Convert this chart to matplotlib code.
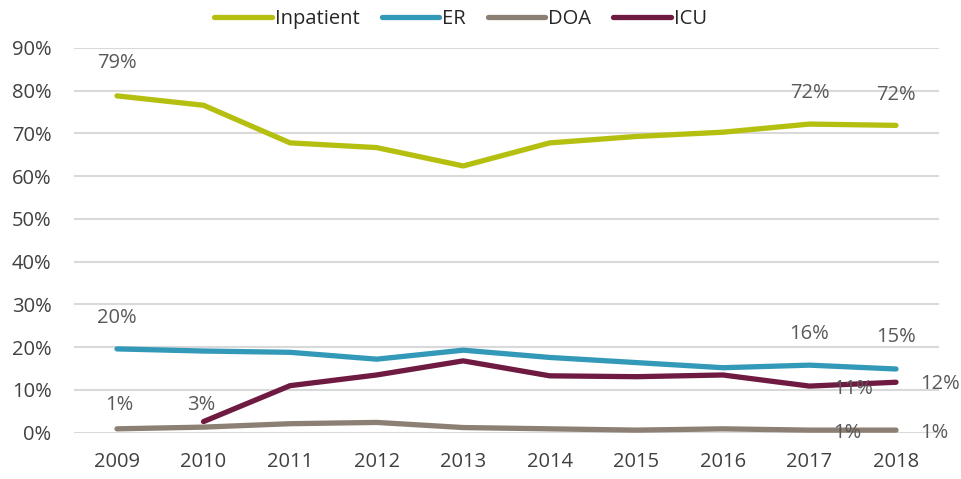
import matplotlib
matplotlib.use('Agg')
import matplotlib.pyplot as plt
import numpy as np

plt.rcParams['font.family'] = ['Open Sans', 'DejaVu Sans']

### Data
years = ['2009', '2010', '2011', '2012', '2013', '2014', '2015', '2016', '2017', '2018']
inpatient = [78.8, 76.6, 67.8, 66.7, 62.4, 67.8, 69.3, 70.3, 72.2, 71.9]
er = [19.6, 19.1, 18.8, 17.2, 19.3, 17.6, 16.4, 15.2, 15.8, 14.9]
doa = [0.9, 1.3, 2.1, 2.4, 1.2, 0.9, 0.6, 0.9, 0.6, 0.6]
icu = [np.nan, 2.6, 11.0, 13.5, 16.8, 13.3, 13.1, 13.5, 10.9, 11.8]

series = ['Inpatient', 'ER', 'DOA', 'ICU']
values = [inpatient, er, doa, icu]
colors = ['#B5BF10', '#3399B9', '#8C7F74', '#6E1A41']

# data labels: (series index, year index, text, dx px, dy px)
labels = [(0, 0, '79%', 0, 33), (0, 8, '72%', 0, 31), (0, 9, '72%', 0, 30),
          (1, 0, '20%', 0, 31), (1, 8, '16%', 0, 31), (1, 9, '15%', 0, 32),
          (3, 1, '3%', -2, 17), (3, 8, '11%', 44, -3), (3, 9, '12%', 44, -2),
          (2, 0, '1%', 2, 24), (2, 8, '1%', 38, -3), (2, 9, '1%', 38, -3)]

fig = plt.figure(figsize=(9.61, 4.79), dpi=100)
ax = fig.add_axes([0.0767, 0.0967, 0.9007, 0.8031])
x = np.arange(len(years))
for i in range(len(series)):
    ax.plot(x, values[i], color=colors[i], lw=3.8, label=series[i],
            solid_capstyle='round', solid_joinstyle='round', zorder=3)

for s, j, t, dx, dy in labels:
    ax.annotate(t, (x[j], values[s][j]), xytext=(dx * 0.72, dy * 0.72), textcoords='offset points',
                ha='center', va='center', fontsize=14.5, color='#595959', zorder=4)

ax.set_xlim(-0.5, len(years) - 0.5)
ax.set_ylim(0, 90)
ax.set_yticks(np.arange(0, 91, 10))
ax.set_yticklabels(['{}%'.format(v) for v in range(0, 91, 10)])
ax.set_xticks(x)
ax.set_xticklabels(years)
ax.tick_params(length=0, labelsize=14.5, labelcolor='#404040')
ax.tick_params(axis='y', pad=16)
ax.tick_params(axis='x', pad=14)
ax.grid(axis='y', color='#D9D9D9', lw=1.5, zorder=0)
for sp in ax.spines.values():
    sp.set_visible(False)

leg = ax.legend(loc='center', bbox_to_anchor=(0.447, 1.075), ncol=4, frameon=False,
                fontsize=14.5, handlelength=2.85, handletextpad=0.15, columnspacing=1.1,
                borderpad=0)
for t in leg.get_texts():
    t.set_color('#262626')

fig.savefig('out.png', dpi=100)
